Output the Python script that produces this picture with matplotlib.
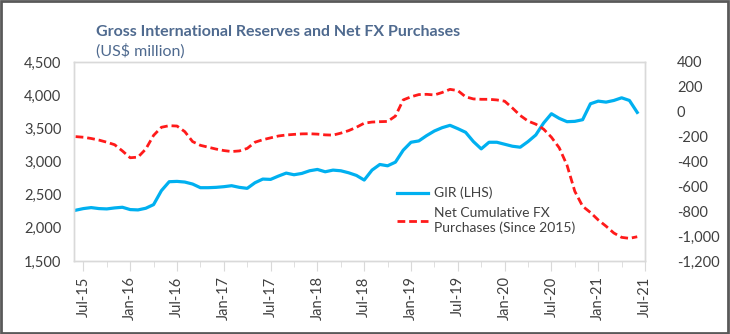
import numpy as np
import matplotlib
matplotlib.use('Agg')
import matplotlib.pyplot as plt
from matplotlib.patches import Rectangle
from matplotlib.ticker import FuncFormatter

# month index, Jul-15 = 0 (data runs Jun-15 .. Jun-21)
months = np.arange(-1, 72)

# Gross International Reserves, US$ million (left axis)
gir = [2265, 2290, 2305, 2290, 2285, 2300, 2310, 2275, 2270, 2295,
       2350, 2560, 2695, 2700, 2690, 2660, 2605, 2605, 2610, 2620,
       2635, 2610, 2595, 2680, 2735, 2730, 2780, 2825, 2800, 2820,
       2860, 2880, 2845, 2870, 2860, 2830, 2790, 2720, 2870, 2955,
       2935, 2990, 3170, 3290, 3310, 3390, 3460, 3510, 3545, 3495,
       3440, 3300, 3190, 3290, 3290, 3260, 3230, 3215, 3300, 3400,
       3580, 3720, 3650, 3600, 3605, 3630, 3870, 3910, 3895, 3920,
       3960, 3920, 3740]

# Net cumulative FX purchases since 2015, US$ million (right axis)
fx = [-200, -205, -215, -228, -245, -265, -315, -370, -365, -300,
      -190, -125, -112, -115, -160, -240, -270, -285, -300, -312,
      -320, -315, -295, -245, -225, -210, -195, -187, -182, -178,
      -177, -180, -186, -188, -172, -152, -125, -92, -83, -80,
      -78, -35, 95, 120, 138, 140, 135, 155, 180, 170,
      120, 103, 100, 100, 95, 85, 30, -30, -75, -100,
      -140, -205, -290, -430, -640, -760, -810, -870, -920, -975,
      -1010, -1018, -1005]

tick_pos = np.arange(0, 73, 6)
tick_labels = ['Jul-15', 'Jan-16', 'Jul-16', 'Jan-17', 'Jul-17', 'Jan-18', 'Jul-18',
               'Jan-19', 'Jul-19', 'Jan-20', 'Jul-20', 'Jan-21', 'Jul-21']

plt.rcParams['font.family'] = ['Lato', 'DejaVu Sans']

fig = plt.figure(figsize=(7.3, 3.34), dpi=100)
fig.patches.append(Rectangle((0.002, 0.004), 0.995, 0.992, transform=fig.transFigure,
                             fill=False, edgecolor='#595959', linewidth=2))

ax = fig.add_axes([0.1014, 0.2186, 0.7822, 0.5958])
ax2 = ax.twinx()

l1, = ax.plot(months, gir, color='#00b0f0', linewidth=2.3, solid_joinstyle='round',
              label='GIR (LHS)')
l2, = ax2.plot(months, fx, color='#ff1a1a', linewidth=2.0, linestyle=(0, (2.8, 1.4)),
               label='Net Cumulative FX\nPurchases (Since 2015)')

ax.set_xlim(-1.2, 72)
ax.set_ylim(1500, 4500)
ax2.set_ylim(-1200, 400)
ax.set_yticks(np.arange(1500, 4501, 500))
ax2.set_yticks(np.arange(-1200, 401, 200))
ax.yaxis.set_major_formatter(FuncFormatter(lambda v, p: f'{int(v):,}'))
ax2.yaxis.set_major_formatter(FuncFormatter(lambda v, p: f'{int(v):,}'))

ax.set_xticks(tick_pos)
ax.set_xticklabels(tick_labels, rotation=90)
ax.set_xticks(tick_pos[:-1] + 3, minor=True)

for a in (ax, ax2):
    for s in a.spines.values():
        s.set_color('#d9d9d9')
        s.set_linewidth(1.0)

ax.tick_params(axis='x', which='major', length=7, color='#d9d9d9', labelsize=10.5,
               labelcolor='#404040', pad=4)
ax.tick_params(axis='x', which='minor', length=4, color='#d9d9d9')
ax.tick_params(axis='y', length=0, labelsize=10.5, labelcolor='#404040', pad=9)
ax2.tick_params(axis='y', length=0, labelsize=10.5, labelcolor='#404040', pad=23)

fig.text(0.131, 0.905, 'Gross International Reserves and Net FX Purchases',
         fontsize=11.5, fontweight='bold', color='#4f6a8f', va='center')
fig.text(0.131, 0.848, '(US$ million)', fontsize=11.5, color='#4f6a8f', va='center')

leg = ax.legend(handles=[l1, l2], loc='upper left', bbox_to_anchor=(0.556, 0.40),
                frameon=False, fontsize=10, handlelength=2.2, labelspacing=0.55,
                handletextpad=0.45, borderaxespad=0)
for t in leg.get_texts():
    t.set_color('#404040')

fig.savefig('out.png', dpi=100)
